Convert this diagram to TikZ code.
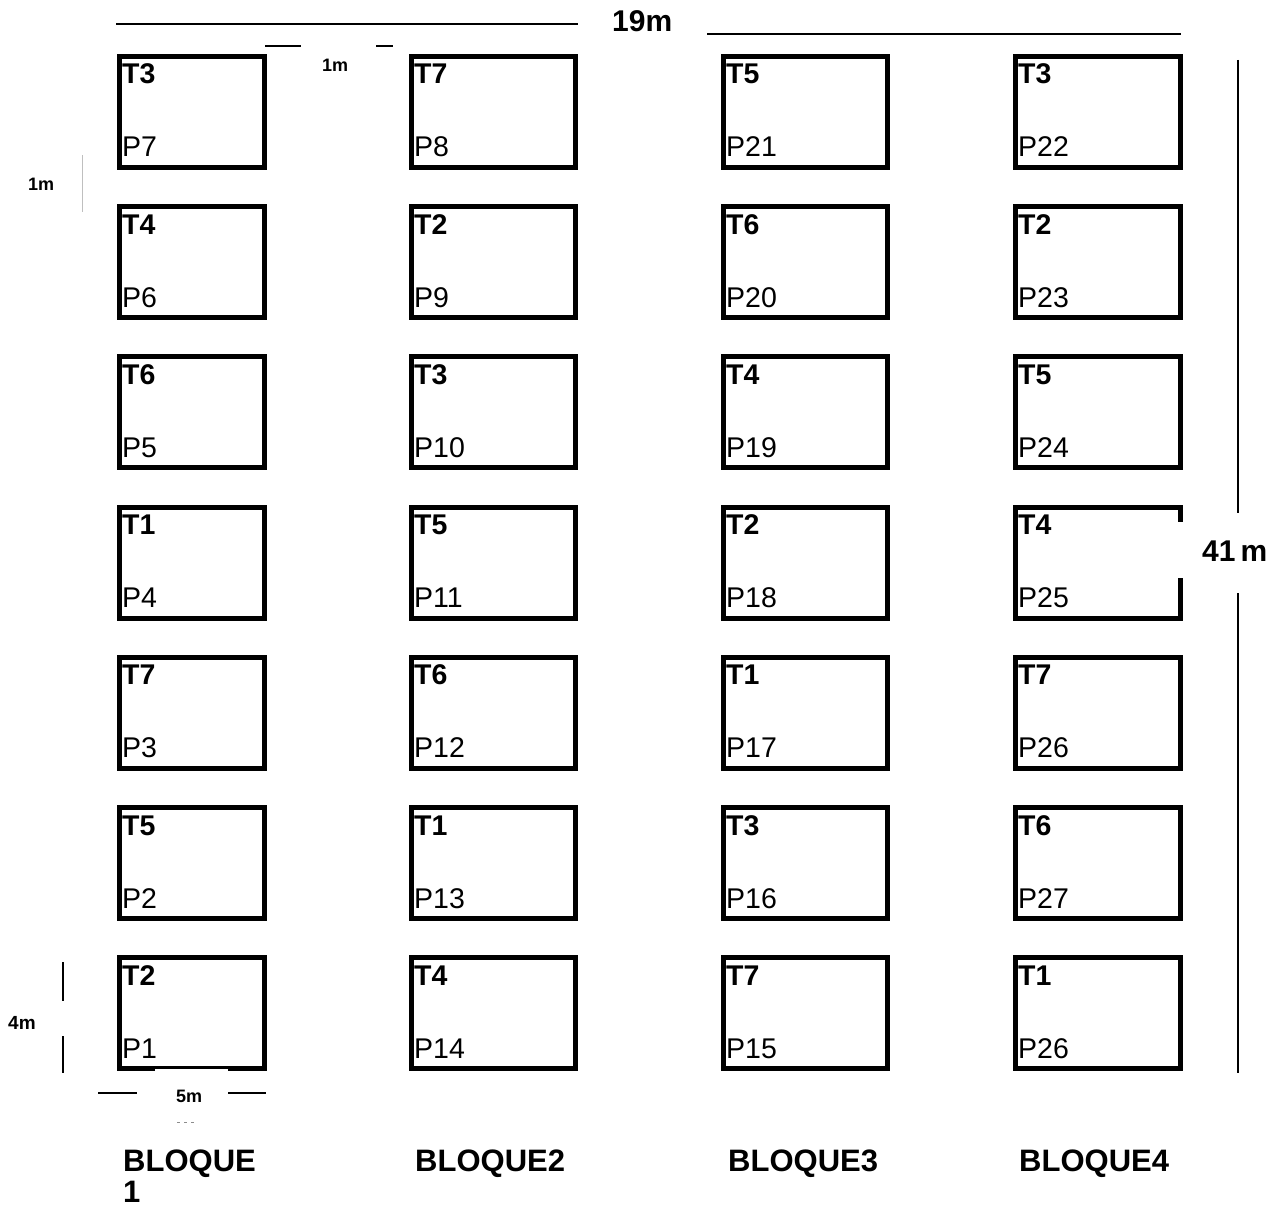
\documentclass[tikz,border=0pt]{standalone}
\usepackage{fontspec}
\setmainfont{Liberation Sans}
\begin{document}
\begin{tikzpicture}[x=1pt,y=-1pt,
  plot/.style={draw, line width=5pt, inner sep=0pt, outer sep=0pt},
  tlab/.style={font=\fontsize{28.5}{34}\selectfont\bfseries, anchor=base west, inner sep=0pt},
  plab/.style={font=\fontsize{28.5}{34}\selectfont, anchor=base west, inner sep=0pt},
  dimline/.style={line width=1.5pt},
  dimsmall/.style={font=\fontsize{18}{22}\selectfont\bfseries, anchor=base west, inner sep=0pt},
  dimbig/.style={font=\fontsize{30}{34}\selectfont\bfseries, anchor=base west, inner sep=0pt},
  bloque/.style={font=\fontsize{31}{34}\selectfont\bfseries, anchor=base west, inner sep=0pt}]
\useasboundingbox (0,0) rectangle (1278,1207);

% plots
\foreach \c/\xl/\xr/\labs in {
  1/117/267/{T3/P7,T4/P6,T6/P5,T1/P4,T7/P3,T5/P2,T2/P1},
  2/409/578/{T7/P8,T2/P9,T3/P10,T5/P11,T6/P12,T1/P13,T4/P14},
  3/721/890/{T5/P21,T6/P20,T4/P19,T2/P18,T1/P17,T3/P16,T7/P15},
  4/1013/1183/{T3/P22,T2/P23,T5/P24,T4/P25,T7/P26,T6/P27,T1/P26}}{
  \foreach \t/\p [count=\r] in \labs {
    \node[plot, minimum width={\xr-\xl-5}, minimum height=111]
      (b\c\r) at ({(\xl+\xr)/2},{54+150.2*(\r-1)+58}) {};
    \node[tlab] (t\c\r) at ([xshift=2.5pt,yshift=-27.5pt]b\c\r.north west) {\t};
    \node[plab] (p\c\r) at ([xshift=2.5pt,yshift=-100.5pt]b\c\r.north west) {\p};
  }
}

% 19m overall width
\draw[dimline] (116,24) -- (578,24);
\draw[dimline] (707,34) -- (1181,34);
\node[dimbig] (w19) at (612,32) {19m};

% 1m gap between blocks
\draw[dimline] (265,46) -- (301,46);
\draw[dimline] (376,46) -- (393,46);
\node[dimsmall] (g1) at (322,72) {1m};

% 1m gap between plots (left)
\node[dimsmall] (g2) at (28,190) {1m};
\draw[line width=0.5pt, black!25] (82,155) -- (82,212);

% 4m plot height
\draw[dimline] (63,962) -- (63,1001);
\draw[dimline] (63,1036) -- (63,1073);
\node[dimsmall, font=\fontsize{19}{22}\selectfont\bfseries] (h4) at (8,1029) {4m};

% 5m plot width
\fill[white] (155,1069) rectangle (228,1110);
\draw[dimline] (98,1093) -- (137,1093);
\draw[dimline] (228,1093) -- (266,1093);
\node[dimsmall] (w5) at (176,1102) {5m};
\draw[line width=1pt, black!45, dash pattern=on 3pt off 4pt] (177,1122) -- (197,1122);

% 41m overall length
\fill[white] (1177,522) rectangle (1272,578);
\draw[dimline] (1238,60) -- (1238,513);
\draw[dimline] (1238,593) -- (1238,1073);
\node[dimbig] (l41) at (1202,561) {41\,m};

% block labels
\node[bloque] (bl1) at (123,1171) {BLOQUE};
\node[bloque] (bl1b) at (123,1202) {1};
\node[bloque] (bl2) at (415,1171) {BLOQUE2};
\node[bloque] (bl3) at (728,1171) {BLOQUE3};
\node[bloque] (bl4) at (1019,1171) {BLOQUE4};
\end{tikzpicture}
\end{document}
